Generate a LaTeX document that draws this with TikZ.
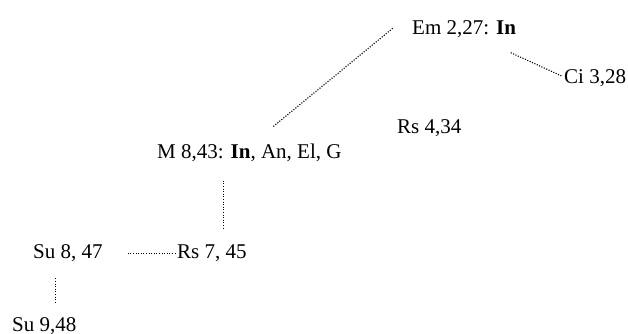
\documentclass[tikz,border=0pt]{standalone}
\usepackage{fontspec}
\setmainfont{Liberation Serif}
\begin{document}
\begin{tikzpicture}[x=1pt,y=1pt,
  lbl/.style={anchor=base west,inner sep=0pt,font=\fontsize{21}{25}\selectfont},
  conn/.style={line width=1.1pt,dash pattern=on 1.1pt off 1.5pt}]
\useasboundingbox (0,0) rectangle (628,-334);
\node[lbl] (em) at (412,-34.5) {Em 2,27: \textbf{In}};
\node[lbl] (ci) at (564,-84) {Ci 3,28};
\node[lbl] (rsa) at (397,-133) {Rs 4,34};
\node[lbl] (m) at (157,-158.3) {M 8,43: \textbf{In}, An, El, G};
\node[lbl] (sua) at (33,-258) {Su 8, 47};
\node[lbl] (rsb) at (177,-258) {Rs 7, 45};
\node[lbl] (sub) at (12,-331.5) {Su 9,48};
\draw[conn] ([shift={(-19.3,6.2)}]em.base west) -- ([shift={(116,31.6)}]m.base west);
\draw[conn] ([shift={(98.7,-18.2)}]em.base west) -- ([shift={(-2.3,8)}]ci.base west);
\draw[conn] ([shift={(66.3,-22.4)}]m.base west) -- ([shift={(46.3,28.7)}]rsb.base west);
\draw[conn] ([shift={(94.7,4.7)}]sua.base west) -- ([shift={(-0.3,4.7)}]rsb.base west);
\draw[conn] ([shift={(22.7,-20.3)}]sua.base west) -- ([shift={(43.7,27.5)}]sub.base west);
\end{tikzpicture}
\end{document}
